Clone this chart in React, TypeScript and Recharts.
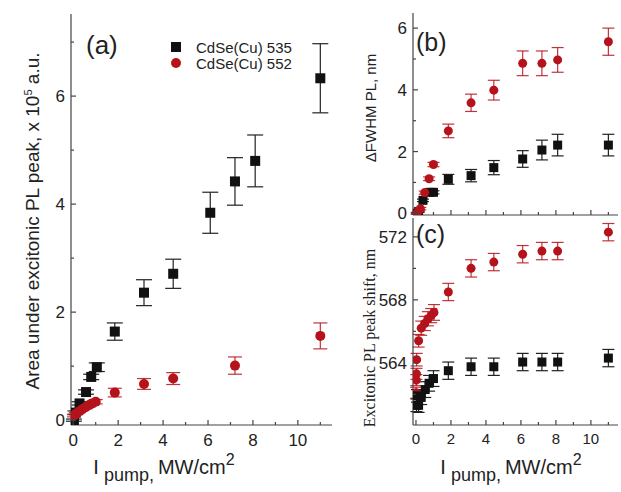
import React from "react";
import { ScatterChart, Scatter, XAxis, YAxis, ErrorBar, Legend } from "recharts";

const SANS = '"Liberation Sans", Arial, sans-serif';
const SERIF = '"Liberation Serif", "Times New Roman", serif';
const RED = "#b5121b";
const BLACK = "#111111";
const FRAME = "#444444";

// (a) area under excitonic PL peak, x 10^5 a.u.
const aX535 = [0.03, 0.1, 0.28, 0.57, 0.8, 1.05, 1.85, 3.15, 4.45, 6.1, 7.2, 8.1, 11.0];
const aY535 = [0.0, 0.14, 0.31, 0.52, 0.8, 0.98, 1.64, 2.36, 2.71, 3.84, 4.42, 4.8, 6.33];
const aErr535 = [0.02, 0.03, 0.03, 0.04, 0.05, 0.08, 0.16, 0.24, 0.27, 0.38, 0.44, 0.48, 0.64];
const aX552 = [0.03, 0.12, 0.25, 0.4, 0.55, 0.7, 0.85, 1.0, 1.85, 3.15, 4.45, 7.2, 11.0];
const aY552 = [0.08, 0.12, 0.16, 0.2, 0.24, 0.28, 0.31, 0.34, 0.51, 0.67, 0.77, 1.01, 1.56];
const aErr552 = [0.02, 0.02, 0.02, 0.02, 0.03, 0.03, 0.03, 0.04, 0.08, 0.1, 0.11, 0.16, 0.24];

// (b) delta FWHM, nm
const bX535 = [0.05, 0.15, 0.4, 0.8, 1.0, 1.85, 3.15, 4.45, 6.1, 7.2, 8.1, 11.0];
const bY535 = [0.0, 0.05, 0.42, 0.68, 0.68, 1.1, 1.22, 1.48, 1.76, 2.05, 2.21, 2.21];
const bErr535 = [0.02, 0.02, 0.04, 0.05, 0.05, 0.16, 0.2, 0.23, 0.27, 0.32, 0.35, 0.35];
const bX552 = [0.05, 0.15, 0.25, 0.5, 0.75, 1.0, 1.85, 3.15, 4.45, 6.1, 7.2, 8.1, 11.0];
const bY552 = [0.0, 0.08, 0.15, 0.67, 1.12, 1.58, 2.67, 3.58, 3.99, 4.86, 4.86, 4.97, 5.56];
const bErr552 = [0.03, 0.03, 0.04, 0.05, 0.06, 0.07, 0.22, 0.28, 0.32, 0.4, 0.4, 0.4, 0.44];

// (c) excitonic PL peak position, nm
const cX535 = [0.03, 0.06, 0.15, 0.3, 0.53, 0.75, 1.0, 1.85, 3.15, 4.45, 6.1, 7.2, 8.1, 11.0];
const cY535 = [561.3, 561.9, 561.3, 561.8, 562.3, 562.7, 563.0, 563.5, 563.75, 563.75, 564.05, 564.05, 564.05, 564.3];
const cErr535 = [0.4, 0.4, 0.45, 0.45, 0.5, 0.5, 0.5, 0.55, 0.55, 0.55, 0.55, 0.55, 0.55, 0.55];
const cX552 = [0.01, 0.02, 0.03, 0.04, 0.15, 0.3, 0.5, 0.68, 0.87, 1.03, 1.85, 3.15, 4.45, 6.1, 7.2, 8.1, 11.0];
const cY552 = [562.1, 562.9, 563.3, 564.2, 565.4, 566.2, 566.5, 566.8, 567.0, 567.2, 568.5, 570.0, 570.4, 570.9, 571.1, 571.1, 572.3];
const cErr552 = [0.35, 0.35, 0.35, 0.4, 0.4, 0.45, 0.45, 0.45, 0.45, 0.5, 0.55, 0.55, 0.55, 0.55, 0.55, 0.55, 0.55];

// ticks
const xTicks = [0, 1, 2, 3, 4, 5, 6, 7, 8, 9, 10, 11];
const xMajor = [0, 2, 4, 6, 8, 10];
const aYTicks = [0, 1, 2, 3, 4, 5, 6, 7];
const aYMajor = [0, 2, 4, 6];
const bYTicks = [0, 1, 2, 3, 4, 5, 6];
const bYMajor = [0, 2, 4, 6];
const cYTicks = [562, 564, 566, 568, 570, 572];
const cYMajor = [564, 568, 572];

const zip = (xs: number[], ys: number[], es: number[]) =>
  xs.map((x, i) => ({ x, y: ys[i], err: es[i] }));

type Side = "bottom" | "top" | "left" | "right";

// inward ticks, labels only on major values
function tickFor(side: Side, major: number[], labels: boolean, fontSize = 16) {
  return (props: any) => {
    const { x, y, payload } = props;
    const v = payload.value;
    const big = major.includes(v);
    const len = big ? 5 : 3;
    let l = { x1: x, y1: y, x2: x, y2: y - len };
    if (side === "top") l = { x1: x, y1: y, x2: x, y2: y + len };
    if (side === "left") l = { x1: x, y1: y, x2: x + len, y2: y };
    if (side === "right") l = { x1: x, y1: y, x2: x - len, y2: y };
    return (
      <g>
        <line {...l} stroke={FRAME} strokeWidth={1.2} />
        {labels && big && side === "bottom" && (
          <text x={x} y={y + fontSize + 4} textAnchor="middle" fontFamily={SANS} fontSize={fontSize} fill="#222">
            {v}
          </text>
        )}
        {labels && big && side === "left" && (
          <text x={x - 6} y={y + fontSize * 0.36} textAnchor="end" fontFamily={SANS} fontSize={fontSize} fill="#222">
            {v}
          </text>
        )}
      </g>
    );
  };
}

const square = (s: number) => (p: any) => (
  <rect x={p.cx - s / 2} y={p.cy - s / 2} width={s} height={s} fill={BLACK} />
);
const dot = (r: number) => (p: any) => <circle cx={p.cx} cy={p.cy} r={r} fill={RED} />;

const legendContent = (props: any) => (
  <div style={{ fontFamily: SANS, fontSize: 15, color: "#222" }}>
    {(props.payload || []).map((p: any) => (
      <div key={p.value} style={{ display: "flex", alignItems: "center", height: 16 }}>
        <svg width={12} height={12}>
          {p.type === "square" ? (
            <rect x={1} y={1} width={10} height={10} fill={BLACK} />
          ) : (
            <circle cx={6} cy={6} r={5} fill={RED} />
          )}
        </svg>
        <span style={{ marginLeft: 14 }}>{p.value}</span>
      </div>
    ))}
  </div>
);

function Frame(props: {
  xDomain: number[];
  yDomain: number[];
  yTicks: number[];
  yMajor: number[];
  xLabels: boolean;
  xFont: number;
  yFont: number;
  yWidth: number;
  xHeight: number;
}) {
  const { xDomain, yDomain, yTicks, yMajor, xLabels, xFont, yFont, yWidth, xHeight } = props;
  return [
    <XAxis key="xb" xAxisId="b" orientation="bottom" type="number" dataKey="x" domain={xDomain} allowDataOverflow
      ticks={xTicks} interval={0} tickSize={0} tickMargin={0} height={xHeight}
      stroke={FRAME} strokeWidth={1.2} tickLine={false} tick={tickFor("bottom", xMajor, xLabels, xFont)} />,
    <XAxis key="xt" xAxisId="t" orientation="top" type="number" domain={xDomain} allowDataOverflow
      ticks={xTicks} interval={0} tickSize={0} tickMargin={0} height={0}
      stroke={FRAME} strokeWidth={1.2} tickLine={false} tick={tickFor("top", xMajor, false)} />,
    <YAxis key="yl" yAxisId="l" orientation="left" type="number" dataKey="y" domain={yDomain} allowDataOverflow
      ticks={yTicks} interval={0} tickSize={0} tickMargin={0} width={yWidth}
      stroke={FRAME} strokeWidth={1.2} tickLine={false} tick={tickFor("left", yMajor, true, yFont)} />,
    <YAxis key="yr" yAxisId="r" orientation="right" type="number" domain={yDomain} allowDataOverflow
      ticks={yTicks} interval={0} tickSize={0} tickMargin={0} width={0}
      stroke={FRAME} strokeWidth={1.2} tickLine={false} tick={tickFor("right", yMajor, false)} />,
  ];
}

const abs = (left: number, top: number): React.CSSProperties => ({ position: "absolute", left, top });

const IPump = ({ cx }: { cx: number }) => (
  <div style={{ ...abs(cx, 455), transform: "translateX(-50%)", fontFamily: SANS, fontSize: 20, color: "#222", whiteSpace: "nowrap", lineHeight: "24px" }}>
    I<sub style={{ fontSize: 18, verticalAlign: "-7px", marginLeft: 5, marginRight: 4, lineHeight: 0 }}>pump,</sub>MW/cm
    <sup style={{ fontSize: 16, verticalAlign: "9px", lineHeight: 0 }}>2</sup>
  </div>
);

export default function App() {
  const a535 = zip(aX535, aY535, aErr535);
  const a552 = zip(aX552, aY552, aErr552);
  const b535 = zip(bX535, bY535, bErr535);
  const b552 = zip(bX552, bY552, bErr552);
  const c535 = zip(cX535, cY535, cErr535);
  const c552 = zip(cX552, cY552, cErr552);

  const errBlack = (w: number) => (
    <ErrorBar dataKey="err" direction="y" width={w} stroke="#222" strokeWidth={1.2} isAnimationActive={false} />
  );
  const errRed = (w: number) => (
    <ErrorBar dataKey="err" direction="y" width={w} stroke={RED} strokeOpacity={0.85} strokeWidth={1.2} isAnimationActive={false} />
  );

  return (
    <div style={{ position: "absolute", left: 0, top: 0, width: 621, height: 492, background: "#fff", overflow: "hidden" }}>
      {/* (a) */}
      <div style={abs(0, 0)}>
        <ScatterChart width={340} height={470} margin={{ top: 14, right: 8, bottom: 0, left: 0 }}>
          {Frame({ xDomain: [-0.1, 11.52], yDomain: [-0.09, 7.52], yTicks: aYTicks, yMajor: aYMajor, xLabels: true, xFont: 17, yFont: 17, yWidth: 71, xHeight: 45 })}
          <Scatter name="CdSe(Cu) 535" data={a535} xAxisId="b" yAxisId="l" fill={BLACK} legendType="square"
            shape={square(10)} isAnimationActive={false}>
            {errBlack(8)}
          </Scatter>
          <Scatter name="CdSe(Cu) 552" data={a552} xAxisId="b" yAxisId="l" fill={RED} legendType="circle"
            shape={dot(5)} isAnimationActive={false}>
            {errRed(7)}
          </Scatter>
          <Legend layout="vertical" align="center" verticalAlign="middle" content={legendContent}
            wrapperStyle={{ left: 170, top: 39, width: 160 }} />
        </ScatterChart>
      </div>

      {/* (b) */}
      <div style={abs(340, 0)}>
        <ScatterChart width={281} height={230} margin={{ top: 13, right: 3, bottom: 0, left: 0 }}>
          {Frame({ xDomain: [-0.17, 11.55], yDomain: [-0.055, 6.49], yTicks: bYTicks, yMajor: bYMajor, xLabels: false, xFont: 15, yFont: 17, yWidth: 73, xHeight: 15 })}
          <Scatter data={b535} xAxisId="b" yAxisId="l" fill={BLACK} shape={square(9)} isAnimationActive={false}>
            {errBlack(6)}
          </Scatter>
          <Scatter data={b552} xAxisId="b" yAxisId="l" fill={RED} shape={dot(4.5)} isAnimationActive={false}>
            {errRed(6)}
          </Scatter>
        </ScatterChart>
      </div>

      {/* (c) */}
      <div style={abs(340, 218)}>
        <ScatterChart width={281} height={252} margin={{ top: 0, right: 3, bottom: 0, left: 0 }}>
          {Frame({ xDomain: [-0.17, 11.55], yDomain: [560.05, 573.2], yTicks: cYTicks, yMajor: cYMajor, xLabels: true, xFont: 15, yFont: 17, yWidth: 73, xHeight: 45 })}
          <Scatter data={c552} xAxisId="b" yAxisId="l" fill={RED} shape={dot(4.5)} isAnimationActive={false}>
            {errRed(6)}
          </Scatter>
          <Scatter data={c535} xAxisId="b" yAxisId="l" fill={BLACK} shape={square(9)} isAnimationActive={false}>
            {errBlack(6)}
          </Scatter>
        </ScatterChart>
      </div>

      {/* panel letters */}
      <div style={{ ...abs(86, 30), fontFamily: SANS, fontSize: 26, color: "#222" }}>(a)</div>
      <div style={{ ...abs(416, 28), fontFamily: SANS, fontSize: 25, color: "#222" }}>(b)</div>
      <div style={{ ...abs(416, 220), fontFamily: SANS, fontSize: 25, color: "#222" }}>(c)</div>

      {/* axis titles */}
      <div style={{ ...abs(33, 221), transform: "translate(-50%, -50%) rotate(-90deg)", fontFamily: SANS, fontSize: 19, color: "#222", whiteSpace: "nowrap" }}>
        Area under excitonic PL peak, x 10<sup style={{ fontSize: 11 }}>5</sup> a.u.
      </div>
      <div style={{ ...abs(370, 108), transform: "translate(-50%, -50%) rotate(-90deg)", fontFamily: SANS, fontSize: 15, color: "#222", whiteSpace: "nowrap" }}>
        ΔFWHM PL, nm
      </div>
      <div style={{ ...abs(370, 338), transform: "translate(-50%, -50%) rotate(-90deg)", fontFamily: SERIF, fontSize: 16, color: "#222", whiteSpace: "nowrap" }}>
        Excitonic PL peak shift, nm
      </div>
      <IPump cx={164} />
      <IPump cx={511} />
    </div>
  );
}
